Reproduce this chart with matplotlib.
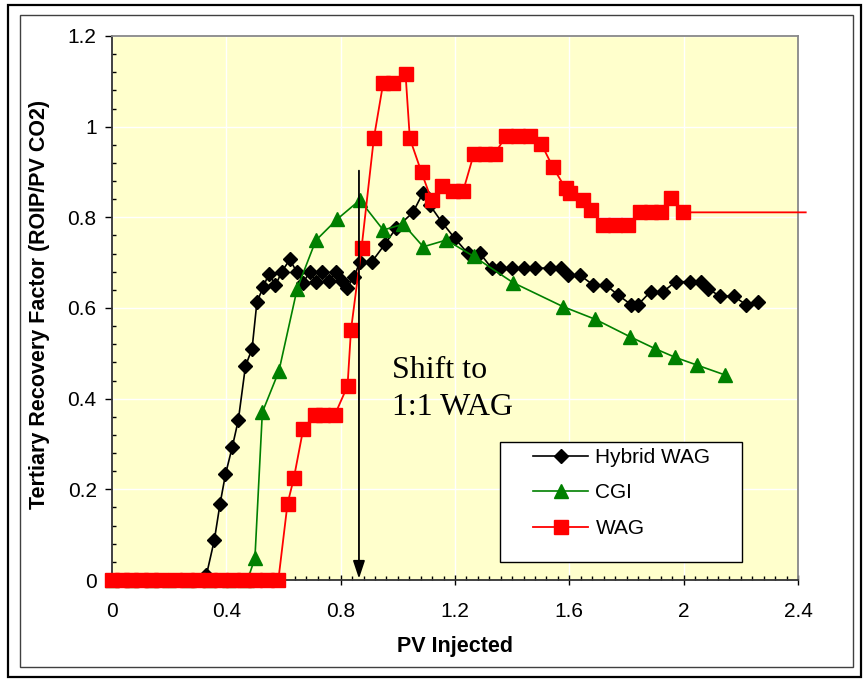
import numpy as np
import matplotlib.pyplot as plt
from matplotlib.patches import Rectangle
from matplotlib.ticker import MultipleLocator, FuncFormatter

plt.rcParams['font.family'] = ['Liberation Sans', 'DejaVu Sans']

# Hybrid WAG
hyb_x = [0, 0.05, 0.1, 0.15, 0.2, 0.25, 0.3, 0.33, 0.358, 0.378, 0.397, 0.421, 0.442,
         0.467, 0.49, 0.507, 0.529, 0.549, 0.572, 0.594, 0.622, 0.646, 0.669, 0.692,
         0.713, 0.735, 0.76, 0.782, 0.803, 0.823, 0.846, 0.867, 0.908, 0.955, 0.995,
         1.053, 1.088, 1.112, 1.153, 1.199, 1.244, 1.287, 1.328, 1.359, 1.4, 1.441,
         1.481, 1.531, 1.572, 1.595, 1.636, 1.683, 1.727, 1.77, 1.817, 1.84, 1.884,
         1.928, 1.972, 2.021, 2.062, 2.085, 2.126, 2.175, 2.219, 2.26]
hyb_y = [0, 0, 0, 0, 0, 0, 0, 0.01, 0.088, 0.168, 0.233, 0.294, 0.353,
         0.472, 0.51, 0.613, 0.646, 0.676, 0.65, 0.68, 0.707, 0.68, 0.656, 0.68,
         0.658, 0.679, 0.66, 0.68, 0.66, 0.645, 0.668, 0.701, 0.701, 0.741, 0.777,
         0.811, 0.854, 0.827, 0.79, 0.754, 0.721, 0.721, 0.688, 0.688, 0.688, 0.688,
         0.688, 0.688, 0.688, 0.673, 0.673, 0.651, 0.651, 0.629, 0.607, 0.607, 0.636,
         0.636, 0.658, 0.658, 0.658, 0.643, 0.626, 0.626, 0.607, 0.613]

# CGI
cgi_x = [0, 0.07, 0.14, 0.2, 0.27, 0.34, 0.41, 0.474, 0.5, 0.526, 0.584, 0.648,
         0.713, 0.788, 0.867, 0.949, 1.019, 1.089, 1.17, 1.265, 1.403, 1.578,
         1.691, 1.811, 1.901, 1.971, 2.047, 2.146]
cgi_y = [0, 0, 0, 0, 0, 0, 0, 0, 0.048, 0.37, 0.461, 0.643,
         0.749, 0.796, 0.838, 0.772, 0.785, 0.735, 0.75, 0.714, 0.656, 0.603,
         0.575, 0.537, 0.51, 0.491, 0.474, 0.452]

# WAG (last point has no marker, line runs past the plot edge)
wag_x = [0, 0.034, 0.068, 0.102, 0.136, 0.17, 0.222, 0.262, 0.302, 0.342, 0.382,
         0.422, 0.462, 0.502, 0.542, 0.582, 0.614, 0.636, 0.669, 0.71, 0.739, 0.78,
         0.824, 0.836, 0.873, 0.916, 0.949, 0.984, 1.027, 1.042, 1.083, 1.118, 1.153,
         1.193, 1.228, 1.266, 1.304, 1.339, 1.378, 1.421, 1.462, 1.502, 1.543, 1.587,
         1.601, 1.648, 1.677, 1.718, 1.759, 1.806, 1.846, 1.887, 1.922, 1.957, 1.998,
         2.427]
wag_y = [0, 0, 0, 0, 0, 0, 0, 0, 0, 0, 0,
         0, 0, 0, 0, 0, 0.168, 0.224, 0.333, 0.365, 0.365, 0.365,
         0.428, 0.551, 0.732, 0.974, 1.097, 1.097, 1.116, 0.974, 0.899, 0.838, 0.869,
         0.857, 0.857, 0.94, 0.94, 0.94, 0.979, 0.979, 0.979, 0.962, 0.91, 0.864,
         0.853, 0.838, 0.816, 0.782, 0.782, 0.782, 0.811, 0.811, 0.811, 0.842, 0.811,
         0.811]

shift_x = 0.864

fig = plt.figure(figsize=(8.63, 6.79), dpi=100)
ax = fig.add_axes([112 / 863, 99 / 679, 686 / 863, 544 / 679])
ax.set_facecolor('#FFFFCC')

ax.plot(hyb_x, hyb_y, color='black', lw=1.2, marker='D', ms=7,
        mec='black', label='Hybrid WAG', clip_on=False, zorder=3)
ax.plot(cgi_x, cgi_y, color='#008000', lw=1.2, marker='^', ms=10,
        mec='#008000', label='CGI', clip_on=False, zorder=3)
ax.plot(wag_x, wag_y, color='red', lw=1.3, marker='s', ms=9.5,
        mec='red', label='WAG', clip_on=False, zorder=3,
        markevery=list(range(len(wag_x) - 1)))

ax.set_xlim(0, 2.4)
ax.set_ylim(0, 1.2)
ax.xaxis.set_major_locator(MultipleLocator(0.4))
ax.xaxis.set_minor_locator(MultipleLocator(0.04))
ax.yaxis.set_major_locator(MultipleLocator(0.2))
ax.yaxis.set_minor_locator(MultipleLocator(0.04))
fmt = FuncFormatter(lambda v, p: '%g' % round(v, 2))
ax.xaxis.set_major_formatter(fmt)
ax.yaxis.set_major_formatter(fmt)
ax.grid(True, which='major', color='white', lw=1.0)
ax.set_axisbelow(True)

ax.tick_params(axis='x', which='major', direction='inout', length=7, width=1,
               labelsize=15, pad=12)
ax.tick_params(axis='x', which='minor', direction='in', length=3, width=1)
ax.tick_params(axis='y', which='major', direction='out', length=5, width=1,
               labelsize=15, pad=6)
ax.tick_params(axis='y', which='minor', direction='in', length=3, width=1)

for s in ['left', 'bottom']:
    ax.spines[s].set_color('#333333')
    ax.spines[s].set_linewidth(1.3)
for s in ['top', 'right']:
    ax.spines[s].set_color('#888888')
    ax.spines[s].set_linewidth(1.3)

# arrow marking the switch
ax.annotate('', xy=(shift_x, 0.003), xytext=(shift_x, 0.903),
            arrowprops=dict(arrowstyle='-|>,head_length=0.6,head_width=0.2',
                            color='black', lw=1.3, mutation_scale=18,
                            shrinkA=0, shrinkB=0), zorder=6)
ax.text(0.981, 0.4456, 'Shift to', fontfamily='Liberation Serif', fontsize=23,
        va='baseline', ha='left')
ax.text(0.981, 0.364, '1:1 WAG', fontfamily='Liberation Serif', fontsize=23,
        va='baseline', ha='left')

# legend with square white box
ax.add_patch(Rectangle((0.566, 0.0325), 0.352, 0.2205, transform=ax.transAxes,
                       facecolor='white', edgecolor='black', lw=1, zorder=4.5))
ax.legend(loc='upper left', bbox_to_anchor=(0.614, 0.243), frameon=False,
          fontsize=15, borderpad=0, borderaxespad=0, labelspacing=0.8,
          handlelength=2.64, handletextpad=0.35)

fig.text(455 / 863, (679 - 651.7) / 679, 'PV Injected', fontsize=15.5,
         fontweight='bold', ha='center', va='baseline')
fig.text(40 / 863, (679 - 304) / 679, 'Tertiary Recovery Factor (ROIP/PV CO2)',
         fontsize=15.5, fontweight='bold', rotation=90, ha='center', va='center')

# outer frames
fig.patches.append(Rectangle((8 / 863, 2 / 679), 853 / 863, 672 / 679,
                             transform=fig.transFigure, fill=False,
                             edgecolor='black', lw=1.6))
fig.patches.append(Rectangle((20 / 863, 12 / 679), 833 / 863, 652 / 679,
                             transform=fig.transFigure, fill=False,
                             edgecolor='#404040', lw=1))

fig.savefig('out.png', dpi=100)
